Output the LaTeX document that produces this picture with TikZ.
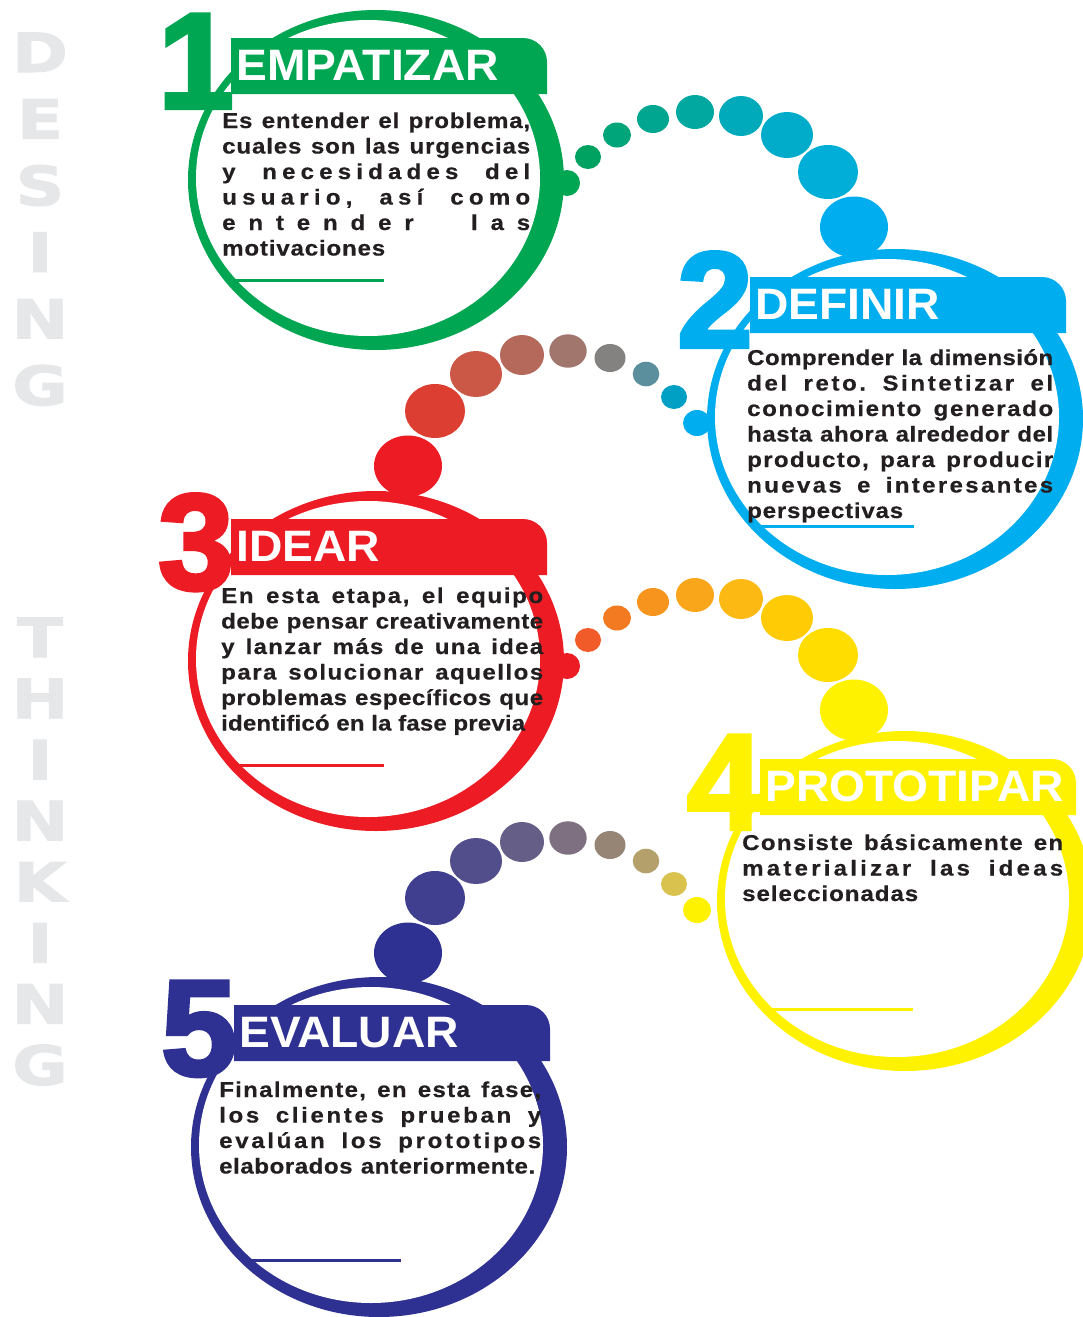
\documentclass[tikz,border=0pt]{standalone}
\usepackage{fontspec}
\setmainfont{Liberation Sans}
\newfontfamily\sidefont[FakeBold=2, FakeStretch=1.25]{DejaVu Sans Bold}
\newfontfamily\numfont[FakeBold=3]{Liberation Sans Bold}
\newfontfamily\ttlfont[FakeStretch=1.05]{Liberation Sans Bold}
\newfontfamily\bodyfont[FakeStretch=1.12, FakeBold=0.5]{Liberation Sans Bold}
\usepackage{tikz}

\definecolor{cgreen}{HTML}{00A651}
\definecolor{cblue}{HTML}{00AEEF}
\definecolor{cred}{HTML}{ED1C24}
\definecolor{cyellow}{HTML}{FFF200}
\definecolor{cnavy}{HTML}{2E3192}
\definecolor{ink}{HTML}{231F20}
\definecolor{side}{HTML}{E6E7E8}

\definecolor{gb1}{HTML}{00A651}\definecolor{gb2}{HTML}{00A261}\definecolor{gb3}{HTML}{00A57A}
\definecolor{gb4}{HTML}{00A690}\definecolor{gb5}{HTML}{00A8A0}\definecolor{gb6}{HTML}{00AABB}
\definecolor{gb7}{HTML}{00ACCA}\definecolor{gb8}{HTML}{00AED8}\definecolor{gb9}{HTML}{00AEEF}
\definecolor{br1}{HTML}{00AEEF}\definecolor{br2}{HTML}{009FC4}\definecolor{br3}{HTML}{5B8F9D}
\definecolor{br4}{HTML}{838280}\definecolor{br5}{HTML}{A1766D}\definecolor{br6}{HTML}{B5695A}
\definecolor{br7}{HTML}{CB5747}\definecolor{br8}{HTML}{DC3F31}\definecolor{br9}{HTML}{ED1C24}
\definecolor{ry1}{HTML}{ED1C24}\definecolor{ry2}{HTML}{F15A29}\definecolor{ry3}{HTML}{F37A21}
\definecolor{ry4}{HTML}{F7941D}\definecolor{ry5}{HTML}{FAA61A}\definecolor{ry6}{HTML}{FDB913}
\definecolor{ry7}{HTML}{FFCB05}\definecolor{ry8}{HTML}{FFDD00}\definecolor{ry9}{HTML}{FFF200}
\definecolor{yb1}{HTML}{FFF200}\definecolor{yb2}{HTML}{D9C34E}\definecolor{yb3}{HTML}{B3A06A}
\definecolor{yb4}{HTML}{968575}\definecolor{yb5}{HTML}{7E7080}\definecolor{yb6}{HTML}{655E87}
\definecolor{yb7}{HTML}{514E8B}\definecolor{yb8}{HTML}{403F8F}\definecolor{yb9}{HTML}{2E3192}

\makeatletter
\def\spr{\futurelet\spr@next\spr@check}
\def\spr@check{%
	\ifx\spr@next\relax\let\spr@do\spr@end
	\else\ifx\spr@next\@sptoken\let\spr@do\spr@space
	\else\let\spr@do\spr@char\fi\fi
	\spr@do}
\def\spr@char#1{#1\hskip 0pt plus 1fil\spr}
\@firstofone{\def\spr@space} {\hskip .28em plus 3fil\spr}
\def\spr@end\relax{\unskip}
\makeatother
\newcommand\jl[2]{\makebox[#1pt][s]{\spr#2\relax}}

\newcommand\card[5]{%
	\fill [#3] (#1,#2) ellipse [x radius=188pt, y radius=170pt];
	\fill [white] (#1-8,#2-2) ellipse [x radius=172pt, y radius=158pt];
	\fill [#3] (#1-145,#2-86) -- (#1-145,#2-142) -- (#1+147,#2-142)
		arc [start angle=90, end angle=0, radius=24pt] -- (#1+171,#2-86) -- cycle;
	\node [num, text=#3] (num#4) at (#1-142,#2-72) {#4};
	\node [ttl] (ttl#4) at (#1-140,#2-100) {#5};
}

\begin{document}
\begin{tikzpicture}[x=1pt, y=-1pt,
	sideletter/.style={font=\sidefont\fontsize{54}{54}\selectfont, text=side, inner sep=0pt, anchor=base},
	num/.style={font=\numfont\fontsize{136}{136}\selectfont, inner sep=0pt, anchor=base east},
	ttl/.style={font=\ttlfont\fontsize{44}{44}\selectfont, text=white, inner sep=0pt, anchor=base west},
	body/.style={font=\bodyfont\fontsize{21.5}{25.5}\selectfont, text=ink, inner sep=0pt, anchor=base west, text width=322pt},
	uline/.style={line width=3pt}]
	\fill [white] (0,0) rectangle (1083,1317);
	\useasboundingbox (0,0) rectangle (1083,1317);
	\clip (0,0) rectangle (1083,1317);

	\foreach \l [count=\i] in {D,E,S,I,N,G}
		\node [sideletter] (s\i) at (40,{72+66.6*(\i-1)}) {\l};
	\foreach \l [count=\i] in {T,H,I,N,K,I,N,G}
		\node [sideletter] (k\i) at (40,{657+61.1*(\i-1)}) {\l};

	\foreach \p/\dy in {gb/0,ry/483}
		\foreach \x/\y/\a/\b [count=\i] in {567/183/13/13, 588/157/13/12, 617/135/14/12.5,
				653/119/16/14, 695/112/19/17, 741/116/22/20, 787/135/26/23, 828/172/30/27, 854/227/34/30.5}
			\fill [fill=\p\i] (\x,\y+\dy) ellipse [x radius=\a pt, y radius=\b pt];
	\foreach \p/\dy in {br/0,yb/487}
		\foreach \x/\y/\a/\b [count=\i] in {697/423/14/13, 674/397/13/12, 646/374/13.3/12.3,
				610/358/15.5/14, 568/351/18.7/16.7, 522/355/22/20, 476/374/26/23, 435/411/30/27, 408/466/34/30.5}
			\fill [fill=\p\i] (\x,\y+\dy) ellipse [x radius=\a pt, y radius=\b pt];

	\card{376}{180}{cgreen}{1}{EMPATIZAR}
	\card{895}{419}{cblue}{2}{DEFINIR}
	\card{376}{661}{cred}{3}{IDEAR}
	\card{905}{901}{cyellow}{4}{PROTOTIPAR}
	\card{379}{1147}{cnavy}{5}{EVALUAR}

	\draw [uline, cgreen] (235,280) -- (384,280);
	\draw [uline, cblue] (757,526) -- (914,526);
	\draw [uline, cred] (237,765) -- (384,765);
	\draw [uline, cyellow] (766,1009) -- (913,1009);
	\draw [uline, cnavy] (245,1260) -- (401,1260);

	\node [body] (txt1) at (222,128) {%
		\jl{308}{Es entender el problema,}\\
		\jl{308}{cuales son las urgencias}\\
		\jl{308}{y necesidades del}\\
		\jl{308}{usuario, así como}\\
		\jl{308}{entender las}\\
		\jl{163}{motivaciones}};
	\node [body] (txt2) at (747,365) {%
		\jl{306}{Comprender la dimensión}\\
		\jl{306}{del reto. Sintetizar el}\\
		\jl{306}{conocimiento generado}\\
		\jl{306}{hasta ahora alrededor del}\\
		\jl{306}{producto, para producir}\\
		\jl{306}{nuevas e interesantes}\\
		\jl{156}{perspectivas}};
	\node [body] (txt3) at (221,603) {%
		\jl{322}{En esta etapa, el equipo}\\
		\jl{322}{debe pensar creativamente}\\
		\jl{322}{y lanzar más de una idea}\\
		\jl{322}{para solucionar aquellos}\\
		\jl{322}{problemas específicos que}\\
		\jl{304}{identificó en la fase previa}};
	\node [body] (txt4) at (742,850) {%
		\jl{321}{Consiste básicamente en}\\
		\jl{321}{materializar las ideas}\\
		\jl{176}{seleccionadas}};
	\node [body] (txt5) at (219,1097) {%
		\jl{322}{Finalmente, en esta fase,}\\
		\jl{322}{los clientes prueban y}\\
		\jl{322}{evalúan los prototipos}\\
		\jl{316}{elaborados anteriormente.}};
\end{tikzpicture}
\end{document}
